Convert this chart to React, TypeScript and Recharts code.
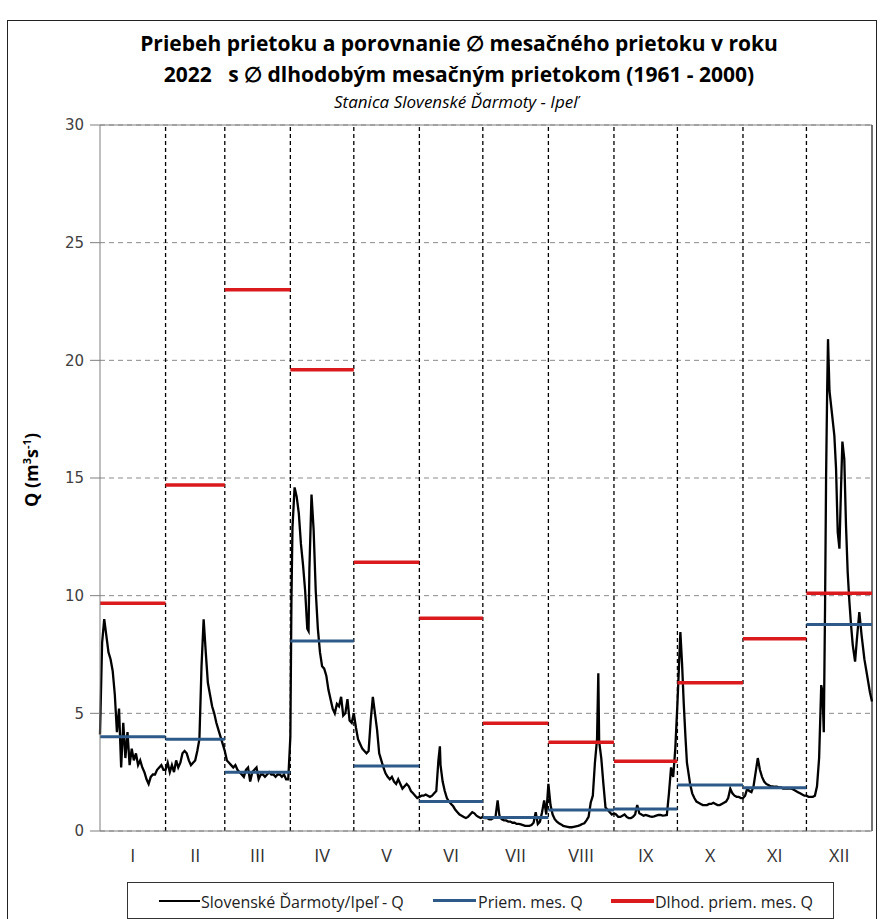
import React from 'react';
import { LineChart, Line, XAxis, YAxis, CartesianGrid, ReferenceLine } from 'recharts';

const monthNames = ['I', 'II', 'III', 'IV', 'V', 'VI', 'VII', 'VIII', 'IX', 'X', 'XI', 'XII'];
// day-of-year where each month starts (last = end of year)
const monthBounds = [0, 31, 59, 90, 120, 151, 181, 212, 243, 273, 304, 334, 365];
const yTicks = [0, 5, 10, 15, 20, 25, 30];

// Ø mesačný prietok 2022 (m3/s)
const avg2022 = [4.0, 3.9, 2.5, 8.07, 2.76, 1.25, 0.57, 0.89, 0.93, 1.95, 1.84, 8.78];
// Ø dlhodobý mesačný prietok 1961-2000 (m3/s)
const avgLongTerm = [9.68, 14.7, 23.0, 19.6, 11.42, 9.04, 4.58, 3.77, 2.96, 6.3, 8.17, 10.1];

// denný prietok 2022: [deň roka, Q]
const dailyFlow: [number, number][] = [
  // I
  [0, 4.1], [1, 8.0], [2, 9.0], [3, 8.3], [4, 7.6], [5, 7.3], [6, 6.8], [7, 5.8], [8, 4.2], [9, 5.2],
  [10, 2.7], [11, 4.6], [12, 3.1], [13, 4.2], [14, 2.8], [15, 3.5], [16, 3.0], [17, 3.3], [18, 2.8],
  [19, 3.0], [20, 2.7], [21, 2.5], [22, 2.2], [23, 2.0], [24, 2.3], [25, 2.4], [26, 2.4], [27, 2.6],
  [28, 2.7], [29, 2.8], [30, 2.6],
  // II
  [31, 2.6], [32, 2.9], [33, 2.5], [34, 2.8], [35, 2.5], [36, 3.0], [37, 2.7], [38, 2.9], [39, 3.3],
  [40, 3.4], [41, 3.3], [42, 3.0], [43, 2.8], [44, 2.9], [45, 3.0], [46, 3.4], [47, 3.9], [48, 7.0],
  [49, 9.0], [50, 7.6], [51, 6.3], [52, 5.8], [53, 5.3], [54, 5.0], [55, 4.6], [56, 4.3], [57, 4.0],
  [58, 3.7],
  // III
  [59, 3.4], [60, 3.0], [61, 2.9], [62, 2.8], [63, 2.7], [64, 2.8], [65, 2.6], [66, 2.5], [67, 2.4],
  [68, 2.3], [69, 2.6], [70, 2.7], [71, 2.1], [72, 2.5], [73, 2.6], [74, 2.7], [75, 2.2], [76, 2.4],
  [77, 2.4], [78, 2.3], [79, 2.4], [80, 2.5], [81, 2.4], [82, 2.4], [83, 2.3], [84, 2.4], [85, 2.4],
  [86, 2.3], [87, 2.4], [88, 2.2], [89, 2.2],
  // IV
  [90, 4.0], [90.5, 9.7], [91, 12.9], [92, 14.6], [93, 14.2], [94, 13.5], [95, 12.2], [96, 11.3],
  [97, 10.2], [98, 8.6], [98.6, 8.5], [99, 11.1], [100, 14.3], [101, 12.8], [102, 10.2], [103, 8.6],
  [104, 7.6], [105, 7.0], [106, 6.9], [107, 6.6], [108, 6.0], [109, 5.6], [110, 5.2], [111, 5.0],
  [112, 5.4], [113, 5.3], [114, 5.7], [115, 4.9], [116, 5.0], [117, 5.6], [118, 4.7], [119, 4.6],
  // V
  [120, 5.0], [121, 4.4], [122, 3.9], [123, 3.7], [124, 3.5], [125, 3.4], [126, 3.3], [127, 3.4],
  [128, 4.7], [129, 5.7], [130, 5.0], [131, 4.3], [132, 3.3], [133, 3.0], [134, 2.7], [135, 2.45],
  [136, 2.3], [137, 2.2], [138, 2.3], [139, 2.1], [140, 2.0], [141, 2.2], [142, 2.0], [143, 1.8],
  [144, 1.9], [145, 2.0], [146, 1.9], [147, 1.7], [148, 1.6], [149, 1.5], [150, 1.4],
  // VI
  [151, 1.45], [152, 1.5], [153, 1.5], [154, 1.55], [155, 1.5], [156, 1.45], [157, 1.5], [158, 1.6],
  [159, 1.7], [160, 3.0], [160.7, 3.6], [161, 2.8], [162, 2.1], [163, 1.7], [164, 1.4], [165, 1.25],
  [166, 1.15], [167, 1.05], [168, 0.9], [169, 0.8], [170, 0.7], [171, 0.65], [172, 0.6], [173, 0.55],
  [174, 0.6], [175, 0.7], [176, 0.8], [177, 0.75], [178, 0.65], [179, 0.6], [180, 0.55],
  // VII
  [181, 0.6], [182, 0.55], [183, 0.55], [184, 0.5], [185, 0.5], [186, 0.55], [187, 0.6], [188, 1.3],
  [188.7, 0.75], [189, 0.6], [190, 0.5], [191, 0.45], [192, 0.45], [193, 0.4], [194, 0.4], [195, 0.35],
  [196, 0.35], [197, 0.3], [198, 0.3], [199, 0.28], [200, 0.25], [201, 0.22], [202, 0.22], [203, 0.22],
  [204, 0.25], [205, 0.35], [206, 0.8], [207, 0.3], [208, 0.4], [209, 0.8], [210, 1.3], [211, 0.7],
  // VIII
  [212, 2.0], [213, 1.1], [214, 0.7], [215, 0.5], [216, 0.4], [217, 0.33], [218, 0.28], [219, 0.22],
  [220, 0.2], [221, 0.18], [222, 0.16], [223, 0.16], [224, 0.18], [225, 0.2], [226, 0.22], [227, 0.25],
  [228, 0.3], [229, 0.33], [230, 0.45], [231, 0.6], [232, 1.2], [233, 1.5], [234, 2.9], [235, 3.9],
  [235.6, 6.7], [236, 3.8], [237, 3.1], [238, 2.0], [239, 1.0], [240, 0.9], [241, 0.8], [242, 0.7],
  // IX
  [243, 0.75], [244, 0.7], [245, 0.6], [246, 0.6], [247, 0.65], [248, 0.7], [249, 0.6], [250, 0.55],
  [251, 0.55], [252, 0.6], [253, 0.7], [254, 1.1], [255, 0.75], [256, 0.7], [257, 0.65], [258, 0.68],
  [259, 0.65], [260, 0.62], [261, 0.6], [262, 0.62], [263, 0.65], [264, 0.68], [265, 0.68], [266, 0.65],
  [267, 0.66], [268, 0.68], [269, 1.6], [270, 2.7], [271, 2.3], [272, 3.5],
  // X
  [273, 5.4], [274.4, 8.45], [275.2, 7.1], [276, 5.4], [276.8, 4.0], [277.5, 2.9], [279, 2.0],
  [280, 1.6], [281, 1.4], [282, 1.25], [283, 1.2], [284, 1.15], [285, 1.1], [286, 1.1], [287, 1.1],
  [288, 1.15], [289, 1.15], [290, 1.2], [291, 1.15], [292, 1.1], [293, 1.1], [294, 1.15], [295, 1.2],
  [296, 1.25], [297, 1.4], [298, 1.8], [299, 1.6], [300, 1.5], [301, 1.45], [302, 1.45], [303, 1.4],
  // XI
  [304, 1.4], [305, 1.5], [306, 1.8], [307, 1.7], [308, 1.65], [309, 1.9], [310, 2.5], [311, 3.1],
  [312, 2.6], [313, 2.3], [314, 2.1], [315, 2.0], [316, 1.95], [317, 1.9], [318, 1.9], [319, 1.88],
  [320, 1.88], [321, 1.85], [322, 1.85], [323, 1.8], [324, 1.8], [325, 1.8], [326, 1.8], [327, 1.8],
  [328, 1.75], [329, 1.7], [330, 1.65], [331, 1.6], [332, 1.55], [333, 1.5],
  // XII
  [334, 1.5], [335, 1.45], [336, 1.45], [337, 1.45], [338, 1.5], [339, 1.9], [340, 3.1], [341, 6.2],
  [341.6, 5.9], [342.2, 4.2], [342.8, 9.5], [343.3, 15.1], [343.8, 18.7], [344.2, 20.9], [344.9, 18.7],
  [346, 17.8], [347.2, 16.8], [348, 15.4], [348.8, 12.7], [349.6, 12.0], [350.3, 14.4], [351, 16.55],
  [351.9, 15.8], [352.7, 13.0], [353.5, 11.0], [354.3, 9.75], [355.1, 8.75], [355.9, 7.9], [357, 7.2],
  [357.9, 8.2], [359, 9.3], [360.1, 8.3], [361.4, 7.3], [362.9, 6.5], [364, 5.9], [365, 5.5],
];

const flowData = dailyFlow.map(([day, q]) => ({ day, q }));

// one flat segment per month, broken by a null point
function monthSteps(values: number[]) {
  const rows: { day: number; v: number | null }[] = [];
  values.forEach((v, i) => {
    rows.push({ day: monthBounds[i], v });
    rows.push({ day: monthBounds[i + 1], v });
    rows.push({ day: monthBounds[i + 1], v: null });
  });
  return rows;
}

const stepsAvg = monthSteps(avg2022);
const stepsLong = monthSteps(avgLongTerm);
const monthMids = monthNames.map((_, i) => (monthBounds[i] + monthBounds[i + 1]) / 2);

const narrow = "'Liberation Sans Narrow', 'Open Sans', sans-serif";

export default function App() {
  return (
    <div style={{ position: 'absolute', left: 0, top: 0, width: 883, height: 919, background: '#fff', overflow: 'hidden' }}>
      <div style={{ position: 'absolute', left: 7, top: 20, width: 868, height: 940, border: '1px solid #222' }} />

      <div style={{ position: 'absolute', left: 0, width: 918, top: 28, textAlign: 'center', fontFamily: narrow, fontWeight: 'bold', fontSize: 21, color: '#000', lineHeight: '31px' }}>
        <div>Priebeh prietoku a porovnanie ∅ mesačného prietoku v roku</div>
        <div>2022&nbsp;&nbsp; s ∅ dlhodobým mesačným prietokom (1961 - 2000)</div>
      </div>
      <div style={{ position: 'absolute', left: 0, width: 912, top: 90, textAlign: 'center', fontFamily: narrow, fontStyle: 'italic', fontSize: 17, color: '#000' }}>
        Stanica Slovenské Ďarmoty - Ipeľ
      </div>

      <div style={{ position: 'absolute', left: 0, top: 0 }}>
        <LineChart width={883} height={870} margin={{ top: 125, right: 11, left: 40, bottom: 0 }}>
          <CartesianGrid vertical={false} stroke="#8a8a8a" strokeDasharray="5 4" />
          <XAxis
            dataKey="day"
            type="number"
            domain={[0, 365]}
            ticks={monthMids}
            tickFormatter={(_v: number, i: number) => monthNames[i]}
            interval={0}
            axisLine={{ stroke: '#7f7f7f' }}
            tickLine={false}
            tickMargin={12}
            height={39}
            tick={{ fill: '#333', fontSize: 18, fontFamily: narrow }}
          />
          <YAxis
            domain={[0, 30]}
            ticks={yTicks}
            width={60}
            tickSize={10}
            tickMargin={6}
            interval={0}
            axisLine={{ stroke: '#7f7f7f' }}
            tickLine={{ stroke: '#7f7f7f' }}
            tick={{ fill: '#404040', fontSize: 15, fontFamily: "'DejaVu Sans', sans-serif" }}
          />
          {monthBounds.slice(1, 12).map((d) => (
            <ReferenceLine key={d} x={d} stroke="#000" strokeWidth={1.3} strokeDasharray="4 3" />
          ))}
          <ReferenceLine y={30} stroke="#7f7f7f" />
          <ReferenceLine x={365} stroke="#444" strokeWidth={1.5} />
          <Line data={flowData} dataKey="q" stroke="#000" strokeWidth={2.3} dot={false} isAnimationActive={false} />
          <Line data={stepsAvg} dataKey="v" stroke="#2D5A88" strokeWidth={3} dot={false} isAnimationActive={false} />
          <Line data={stepsLong} dataKey="v" stroke="#DA1A1D" strokeWidth={3.5} dot={false} isAnimationActive={false} />
        </LineChart>
      </div>

      <div style={{ position: 'absolute', left: 31, top: 470, transform: 'translate(-50%, -50%) rotate(-90deg)', whiteSpace: 'nowrap', fontFamily: narrow, fontWeight: 'bold', fontSize: 18, color: '#000' }}>
        Q (m<sup style={{ fontSize: 11 }}>3</sup>s<sup style={{ fontSize: 11 }}>-1</sup>)
      </div>

      <div style={{ position: 'absolute', left: 127, top: 882, width: 705, height: 35, border: '1px solid #333', fontFamily: narrow, fontSize: 16, color: '#222' }}>
        <div style={{ position: 'absolute', left: 31, top: 17, width: 41, height: 2, background: '#000' }} />
        <div style={{ position: 'absolute', left: 73, top: 8 }}>Slovenské Ďarmoty/Ipeľ - Q</div>
        <div style={{ position: 'absolute', left: 305, top: 16, width: 43, height: 3, background: '#2D5A88' }} />
        <div style={{ position: 'absolute', left: 350, top: 8 }}>Priem. mes. Q</div>
        <div style={{ position: 'absolute', left: 483, top: 16, width: 43, height: 4, background: '#DA1A1D' }} />
        <div style={{ position: 'absolute', left: 527, top: 8 }}>Dlhod. priem. mes. Q</div>
      </div>
    </div>
  );
}
